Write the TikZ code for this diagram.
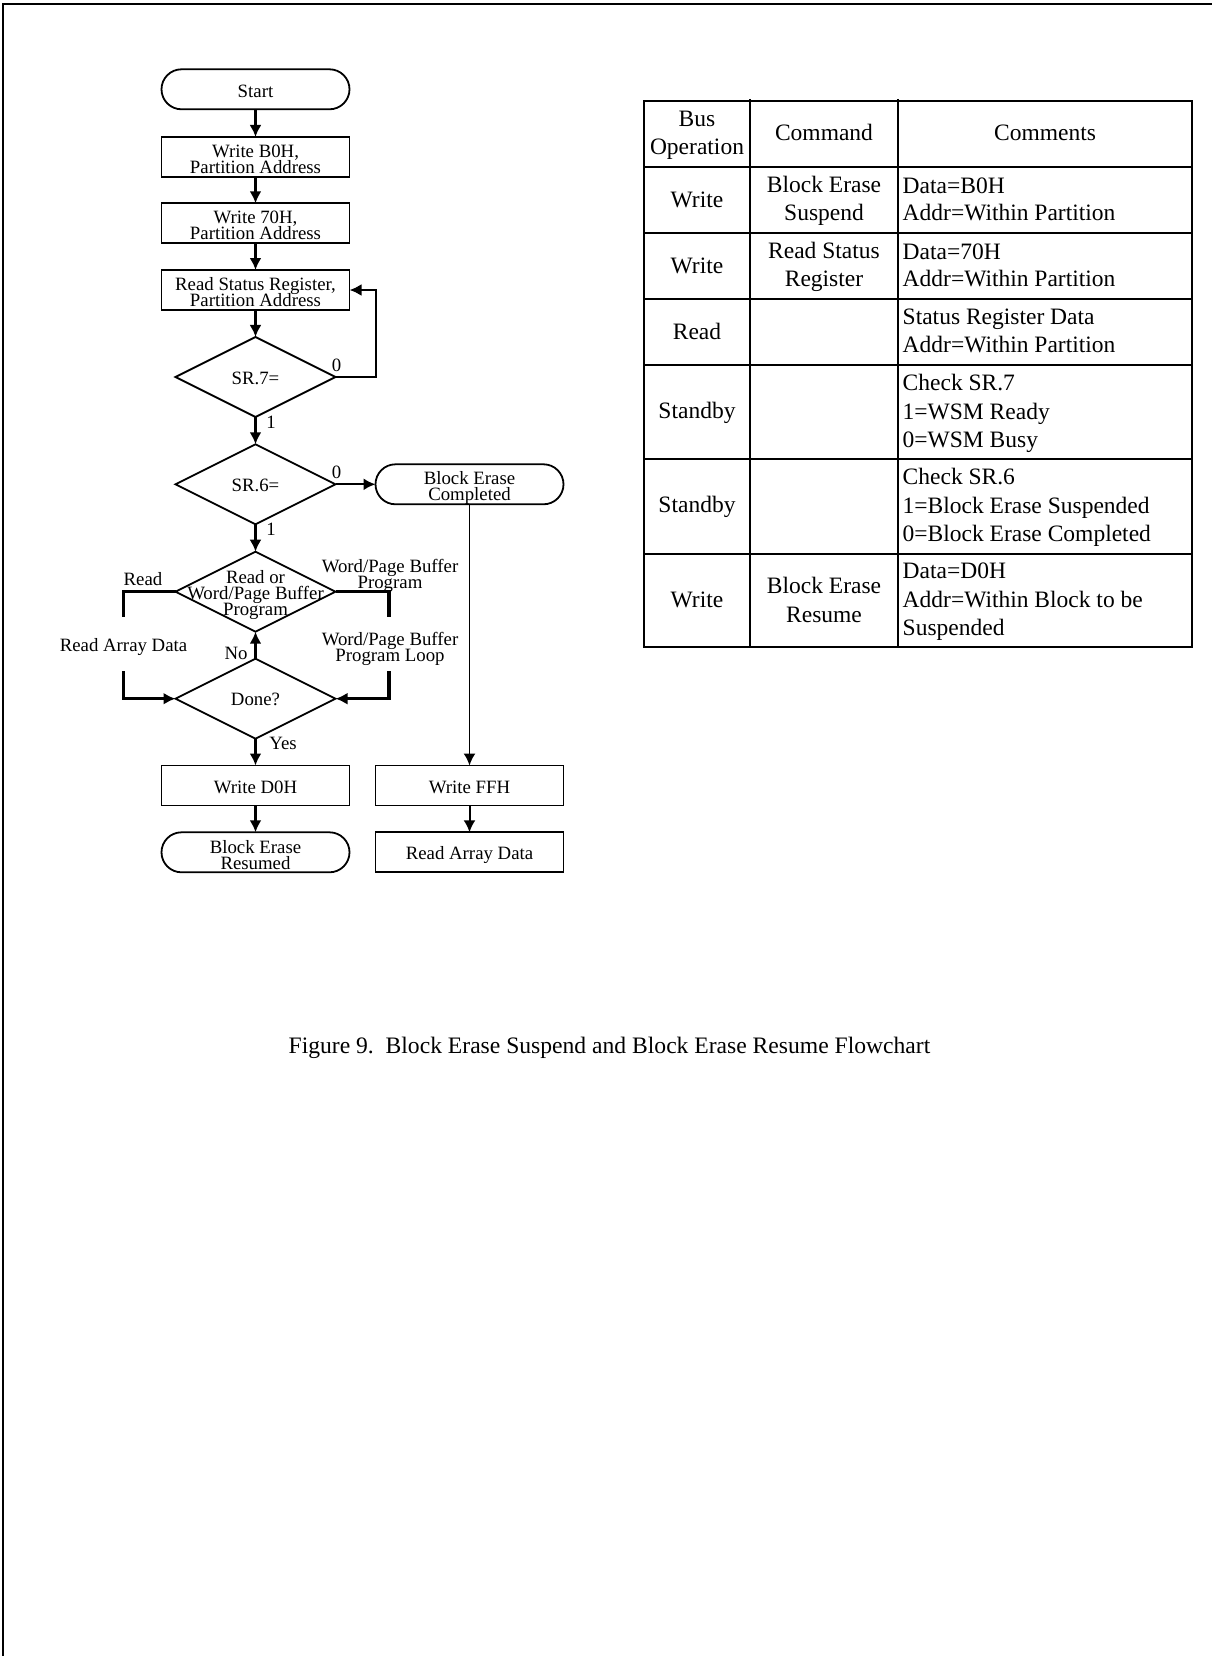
\documentclass[tikz,border=0pt]{standalone}
\usepackage{fontspec}
\setmainfont{Liberation Serif}
\usetikzlibrary{shapes.geometric,arrows.meta,calc}
\lineskiplimit=-30pt
\begin{document}
\begin{tikzpicture}[x=1pt,y=-1pt,
  fc/.style={font=\fontsize{18.8}{16}\selectfont},
  tf2/.style={font=\fontsize{23.5}{27.5}\selectfont},
  tfh/.style={font=\fontsize{23.5}{28.5}\selectfont},
  tf3/.style={font=\fontsize{23.5}{28.5}\selectfont},
  box/.style={draw,line width=1.8pt,minimum width=188pt,minimum height=40pt,inner sep=0pt,outer sep=0pt},
  pill/.style={box,rounded corners=20pt},
  dia/.style={draw,line width=1.8pt,diamond,minimum width=160pt,minimum height=80pt,inner sep=0pt,outer sep=0pt},
  txt/.style={inner sep=0pt,align=center,fc},
  tip/.style={-{Latex[length=12pt,width=12pt]}},
  arr/.style={line width=3.4pt,tip},
  thinarr/.style={line width=2pt,tip},
  loopline/.style={line width=2.7pt},
  sideline/.style={line width=3.2pt},
  tl/.style={line width=2.8pt},
  tc/.style={inner sep=0pt,align=center},
  tlft/.style={inner sep=0pt,align=left,anchor=west}
]
\useasboundingbox (0,0) rectangle (1212,1656);
% frame
\draw[line width=2pt] (3,1656) -- (3,4.5) -- (1212,4.5);

% ---------------- flowchart ----------------
\node[pill] (start) at (255.5,89.3) {};
\node[box] (b0h) at (255.5,157) {};
\node[box] (w70h) at (255.5,223.3) {};
\node[box] (rsr) at (255.5,290) {};
\node[dia] (sr7) at (255.5,377) {};
\node[dia] (sr6) at (255.5,484.3) {};
\node[pill] (bec) at (469.5,484.3) {};
\node[dia] (rw) at (255.5,591.7) {};
\node[dia] (done) at (255.5,698.7) {};
\node[box] (wd0h) at (255.5,785.5) {};
\node[pill] (ber) at (255.5,852.3) {};
\node[box] (wffh) at (469.5,785.5) {};
\node[box] (rad) at (469.5,852.3) {};

% texts of the shapes
\node[txt] (startt) at ($(start)+(0,2)$) {Start};
\node[txt] (b0ht) at ($(b0h)+(0,2)$) {Write B0H,\\Partition Address};
\node[txt] (w70ht) at ($(w70h)+(0,2)$) {Write 70H,\\Partition Address};
\node[txt] (rsrt) at ($(rsr)+(0,2)$) {Read Status Register,\\Partition Address};
\node[txt] (sr7t) at ($(sr7)+(0,1)$) {SR.7=};
\node[txt] (sr6t) at ($(sr6)+(0,1)$) {SR.6=};
\node[txt] (bect) at ($(bec)+(0,3.5)$) {Block Erase\\Completed};
\node[txt] (rwt) at ($(rw)+(0,3)$) {Read or\\Word/Page Buffer\\Program};
\node[txt] (donet) at ($(done)+(0,1)$) {Done?};
\node[txt] (wd0ht) at ($(wd0h)+(0,1.5)$) {Write D0H};
\node[txt] (bert) at ($(ber)+(0,3)$) {Block Erase\\Resumed};
\node[txt] (wffht) at ($(wffh)+(0,1.5)$) {Write FFH};
\node[txt] (radt) at ($(rad)+(0,3)$) {Read Array Data};

% labels
\node[txt] (l0a) at (336.5,365.5) {0};
\node[txt] (l1a) at (271,422.5) {1};
\node[txt] (l0b) at (336.5,472) {0};
\node[txt] (l1b) at (271,529) {1};
\node[txt] (lread) at (143,579.5) {Read};
\node[txt] (lwpb) at (390,575.5) {Word/Page Buffer\\Program};
\node[txt] (lrad) at (123.5,646.5) {Read Array Data};
\node[txt] (lwpl) at (390,649) {Word/Page Buffer\\Program Loop};
\node[txt] (lno) at (236,653.5) {No};
\node[txt] (lyes) at (283,743.5) {Yes};

% free ends of side lines
\coordinate (le1) at (123.5,617);
\coordinate (le2) at (123.5,671);
\coordinate (re1) at (389,617);
\coordinate (re2) at (389,671);

% connectors
\draw[arr] (start) -- (b0h);
\draw[arr] (b0h) -- (w70h);
\draw[arr] (w70h) -- (rsr);
\draw[arr] (rsr) -- (sr7);
\draw[loopline,tip] (sr7.east) -- ++(40.5,0) |- (rsr.east);
\draw[arr] (sr7) -- (sr6);
\draw[thinarr] (sr6.east) -- (bec.west);
\draw[arr] (sr6) -- (rw);
\draw[sideline] (rw.west) -| (le1);
\draw[sideline,tip] (le2) |- (done.west);
\draw[sideline] (rw.east) -| (re1);
\draw[sideline,tip] (re2) |- (done.east);
\draw[arr] (done) -- (rw);
\draw[arr] (done) -- (wd0h);
\draw[arr] (wd0h) -- (ber);
\draw[line width=1.6pt,tip] (bec) -- (wffh);
\draw[thinarr] (wffh) -- (rad);

% ---------------- table ----------------
\draw[tl] (644,101) rectangle (1192,647);
\foreach \yy in {167,233,299,365,459,554} \draw[tl] (644,\yy) -- (1192,\yy);
\draw[tl] (750,99) -- (750,647);
\draw[tl] (898,99) -- (898,647);

\node[tc,tfh] (h1) at (697,135.5) {Bus\\Operation};
\node[tc,tf2] (h2) at (824,132.5) {Command};
\node[tc,tf2] (h3) at (1045,132.5) {Comments};

\node[tc,tf2] (r1a) at (697,199.5) {Write};
\node[tc,tf2] (r1b) at (824,201) {Block Erase\\Suspend};
\node[tlft,tf2] (r1c) at (902.5,199.5) {Data=B0H\\Addr=Within Partition};

\node[tc,tf2] (r2a) at (697,265.5) {Write};
\node[tc,tf2] (r2b) at (824,267) {Read Status\\Register};
\node[tlft,tf2] (r2c) at (902.5,265.5) {Data=70H\\Addr=Within Partition};

\node[tc,tf2] (r3a) at (697,331.5) {Read};
\node[tlft,tf2] (r3c) at (902.5,331) {Status Register Data\\Addr=Within Partition};

\node[tc,tf2] (r4a) at (697,412.5) {Standby};
\node[tlft,tf3] (r4c) at (902.5,413.5) {Check SR.7\\1=WSM Ready\\0=WSM Busy};

\node[tc,tf2] (r5a) at (697,506.5) {Standby};
\node[tlft,tf3] (r5c) at (902.5,507.5) {Check SR.6\\1=Block Erase Suspended\\0=Block Erase Completed};

\node[tc,tf2] (r6a) at (697,600) {Write};
\node[tc,tf3] (r6b) at (824,600) {Block Erase\\Resume};
\node[tlft,tf3] (r6c) at (902.5,602) {Data=D0H\\Addr=Within Block to be\\Suspended};

% caption
\node[inner sep=0pt,font=\fontsize{23.6}{28}\selectfont] (cap) at (609.5,1048) {Figure 9.\ \ Block Erase Suspend and Block Erase Resume Flowchart};
\end{tikzpicture}
\end{document}
